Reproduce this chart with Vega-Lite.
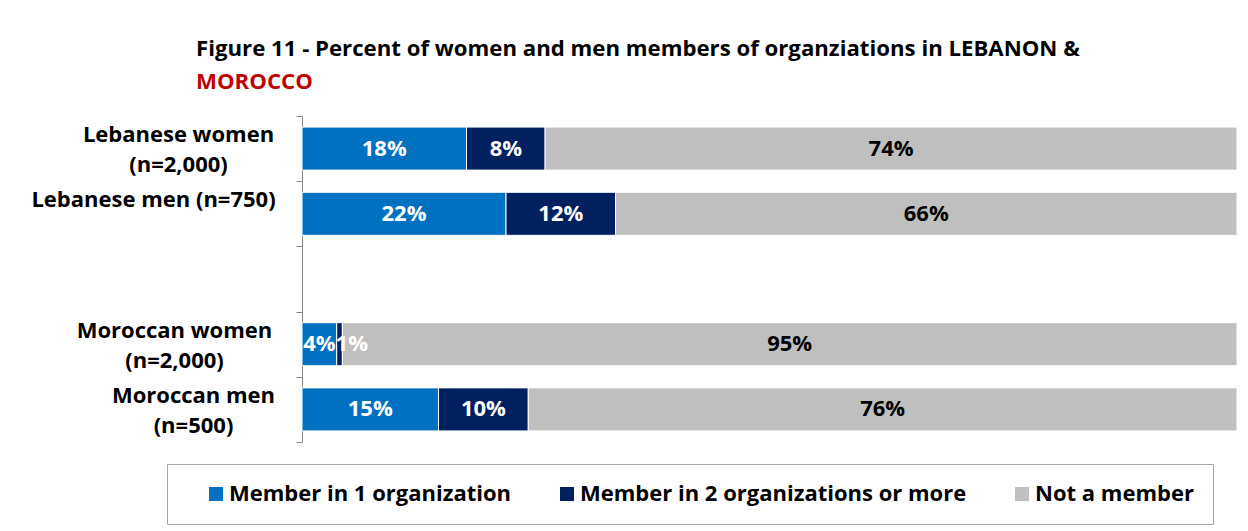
{
  "$schema": "https://vega.github.io/schema/vega-lite/v6.json",
  "autosize": {"type": "none"},
  "width": 935,
  "height": 326,
  "padding": {"left": 302, "top": 116, "right": 11, "bottom": 89},
  "background": "white",
  "config": {
    "view": {"stroke": null},
    "font": "Open Sans"
  },
  "title": {
    "text": "Figure 11 - Percent of women and men members of organziations in LEBANON &",
    "subtitle": "MOROCCO",
    "anchor": "start",
    "frame": "group",
    "dx": -106,
    "offset": 12,
    "font": "Open Sans",
    "fontSize": 22.2,
    "fontWeight": "bold",
    "color": "#000000",
    "subtitleFont": "Open Sans",
    "subtitleFontSize": 22.2,
    "subtitleFontWeight": "bold",
    "subtitleColor": "#C00000",
    "subtitlePadding": 11
  },
  "data": {
    "values": [
      {"group": "Lebanese women|(n=2,000)", "category": "Member in 1 organization", "value": 0.176},
      {"group": "Lebanese women|(n=2,000)", "category": "Member in 2 organizations or more", "value": 0.084},
      {"group": "Lebanese women|(n=2,000)", "category": "Not a member", "value": 0.74},
      {"group": "Lebanese men (n=750)", "category": "Member in 1 organization", "value": 0.218},
      {"group": "Lebanese men (n=750)", "category": "Member in 2 organizations or more", "value": 0.117},
      {"group": "Lebanese men (n=750)", "category": "Not a member", "value": 0.664},
      {"group": "Moroccan women|(n=2,000)", "category": "Member in 1 organization", "value": 0.037},
      {"group": "Moroccan women|(n=2,000)", "category": "Member in 2 organizations or more", "value": 0.006},
      {"group": "Moroccan women|(n=2,000)", "category": "Not a member", "value": 0.953},
      {"group": "Moroccan men|(n=500)", "category": "Member in 1 organization", "value": 0.146},
      {"group": "Moroccan men|(n=500)", "category": "Member in 2 organizations or more", "value": 0.096},
      {"group": "Moroccan men|(n=500)", "category": "Not a member", "value": 0.758}
    ]
  },
  "transform": [
    {"stack": "value", "groupby": ["group"], "sort": [{"field": "category", "order": "ascending"}], "offset": "normalize", "as": ["v0", "v1"]}
  ],
  "encoding": {
    "y": {
      "field": "group",
      "type": "nominal",
      "scale": {
        "domain": ["Lebanese women|(n=2,000)", "Lebanese men (n=750)", "gap", "Moroccan women|(n=2,000)", "Moroccan men|(n=500)"],
        "paddingInner": 0,
        "paddingOuter": 0
      },
      "axis": {
        "title": null,
        "labelExpr": "isValid(datum.value) && datum.value != 'gap' ? split(datum.value, '|') : ''",
        "labelFont": "Open Sans",
        "labelFontSize": 22,
        "labelFontWeight": "bold",
        "labelColor": "#000000",
        "labelLineHeight": 30,
        "labelAlign": "center",
        "labelOffset": -14,
        "labelPadding": {
          "condition": [
            {"test": "datum.value == 'Lebanese men (n=750)'", "value": 143},
            {"test": "datum.value == 'Moroccan men|(n=500)'", "value": 103},
            {"test": "datum.value == 'Lebanese women|(n=2,000)'", "value": 118}
          ],
          "value": 122
        },
        "labelLimit": 400,
        "domainColor": "#868686",
        "tickColor": "#868686",
        "tickSize": 6,
        "tickBand": "extent",
        "grid": false
      }
    }
  },
  "layer": [
    {
      "mark": {"type": "bar", "stroke": "#ffffff", "strokeWidth": 1, "height": {"band": 0.66}},
      "encoding": {
        "x": {"field": "v0", "type": "quantitative", "scale": {"domain": [0, 1], "nice": false, "zero": true}, "axis": null},
        "x2": {"field": "v1"},
        "color": {
          "field": "category",
          "type": "nominal",
          "scale": {
            "domain": ["Member in 1 organization", "Member in 2 organizations or more", "Not a member"],
            "range": ["#0070C0", "#002060", "#BFBFBF"]
          },
          "legend": {
            "title": " ",
            "titleOrient": "left",
            "titlePadding": 19,
            "orient": "none",
            "legendX": -135,
            "legendY": 348,
            "direction": "horizontal",
            "strokeColor": "#A6A6A6",
            "fillColor": "#ffffff",
            "padding": 19,
            "symbolType": "square",
            "symbolSize": 196,
            "symbolStrokeWidth": 0,
            "labelFont": "Open Sans",
            "labelFontSize": 22,
            "labelFontWeight": "bold",
            "labelColor": "#000000",
            "labelLimit": 500,
            "columnPadding": 44,
            "labelOffset": 2
          }
        }
      }
    },
    {
      "transform": [
        {"fold": ["v0", "v1"], "as": ["k", "pos"]},
        {"aggregate": [{"op": "mean", "field": "pos", "as": "mid"}], "groupby": ["group", "category", "value"]},
        {"filter": "datum.value >= 0.01"}
      ],
      "mark": {"type": "text", "font": "Open Sans", "fontSize": 22, "fontWeight": "bold", "align": "center", "baseline": "middle"},
      "encoding": {
        "x": {"field": "mid", "type": "quantitative"},
        "text": {"field": "value", "type": "quantitative", "format": ".0%"},
        "color": {
          "condition": {"test": "datum.category == 'Not a member'", "value": "#000000"},
          "value": "#ffffff"
        }
      }
    },
    {
      "transform": [
        {"fold": ["v0", "v1"], "as": ["k", "pos"]},
        {"aggregate": [{"op": "mean", "field": "pos", "as": "mid"}], "groupby": ["group", "category", "value"]},
        {"filter": "datum.value < 0.01"}
      ],
      "mark": {"type": "text", "font": "Open Sans", "fontSize": 22, "fontWeight": "bold", "align": "left", "baseline": "middle", "dx": -4, "color": "#ffffff"},
      "encoding": {
        "x": {"field": "mid", "type": "quantitative"},
        "text": {"field": "value", "type": "quantitative", "format": ".0%"}
      }
    }
  ]
}
